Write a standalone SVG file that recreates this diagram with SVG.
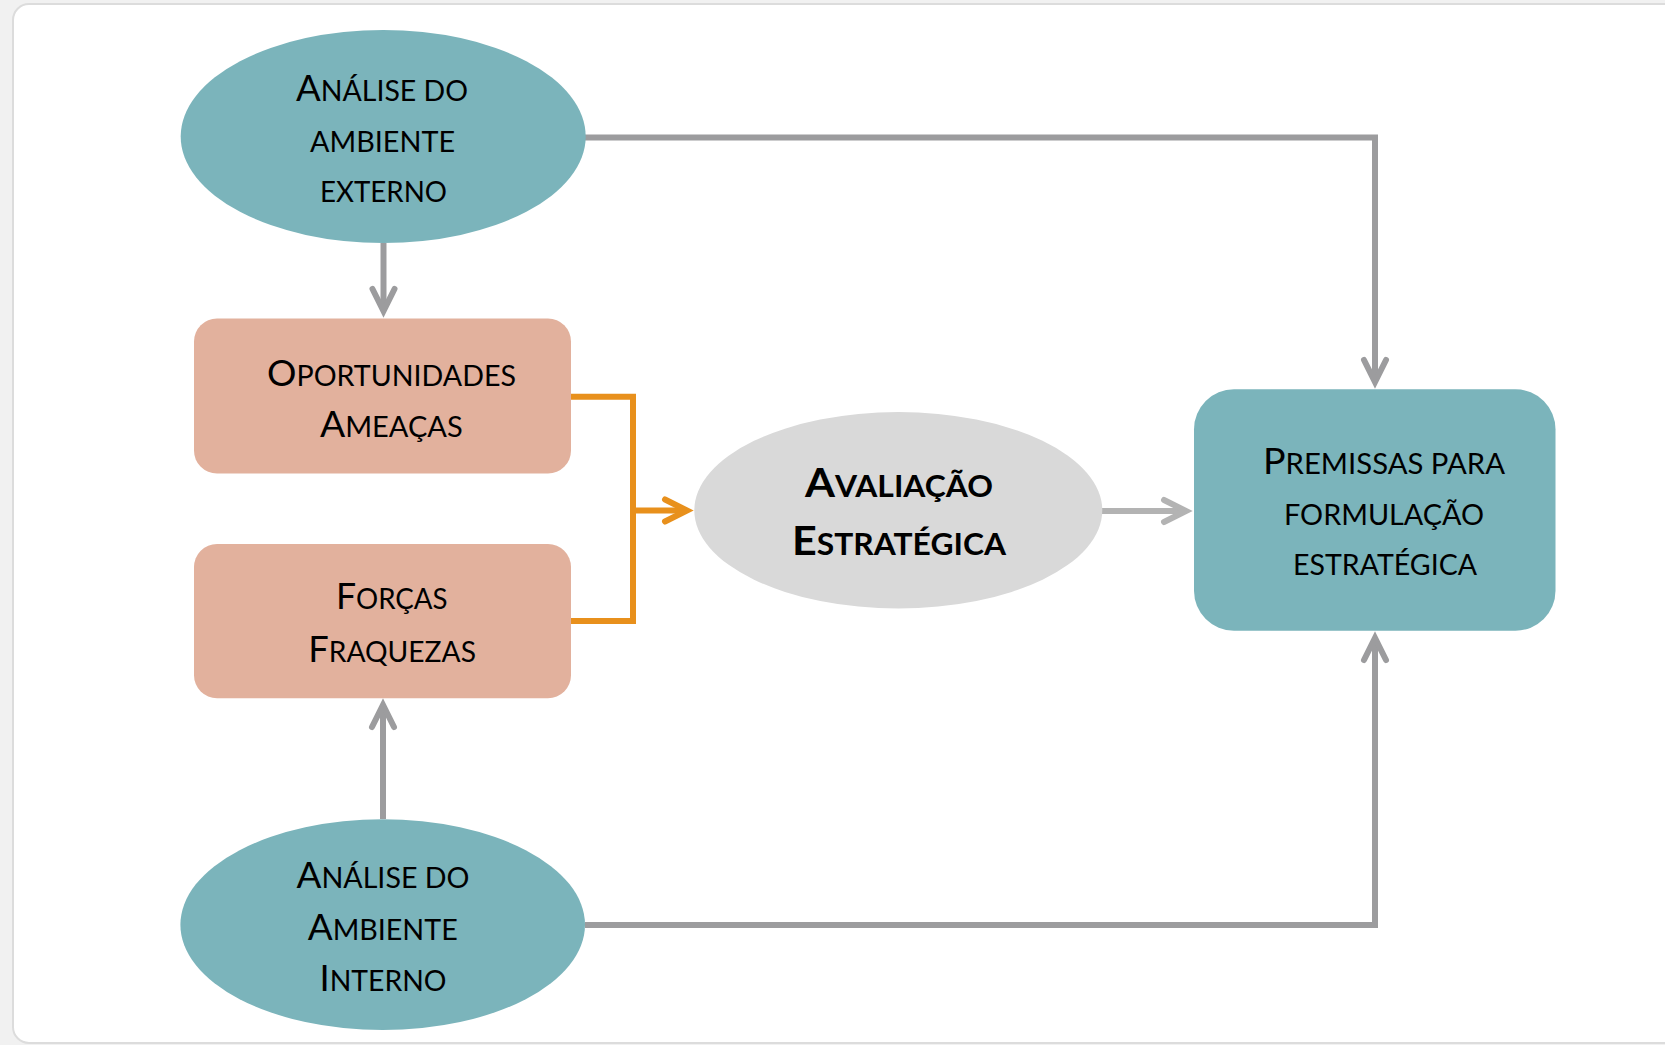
<svg xmlns="http://www.w3.org/2000/svg" width="1665" height="1045" viewBox="0 0 1665 1045">
  <style>
    .teal { fill: #7bb4bb; }
    .salmon { fill: #e2b19d; }
    .light { fill: #d9d9d9; }
    .lbl { font-family: Lato, "Open Sans", "Liberation Sans", sans-serif; fill: #000; text-anchor: middle; }
    .b { font-weight: bold; }
    .big { font-size: 36px; }
    .sm { font-size: 28px; }
    .bigB { font-size: 40px; }
    .smB { font-size: 29.5px; }
    .conn { fill: none; stroke-width: 6; stroke-linejoin: miter; }
    .gray { stroke: #9c9c9e; }
    .orange { stroke: #e8901c; }
    .lgray { stroke: #b3b3b3; }
  </style>
  <defs>
    <marker id="ah-gray" markerUnits="userSpaceOnUse" viewBox="-30 -16 40 32" refX="0" refY="0" markerWidth="40" markerHeight="32" orient="auto" overflow="visible">
      <path d="M-22,-11 L0,0 L-22,11" fill="none" stroke="#9c9c9e" stroke-width="6" stroke-linecap="round" stroke-linejoin="miter"/>
    </marker>
    <marker id="ah-orange" markerUnits="userSpaceOnUse" viewBox="-30 -16 40 32" refX="0" refY="0" markerWidth="40" markerHeight="32" orient="auto" overflow="visible">
      <path d="M-22,-11 L0,0 L-22,11" fill="none" stroke="#e8901c" stroke-width="6" stroke-linecap="round" stroke-linejoin="miter"/>
    </marker>
    <marker id="ah-lgray" markerUnits="userSpaceOnUse" viewBox="-30 -16 40 32" refX="0" refY="0" markerWidth="40" markerHeight="32" orient="auto" overflow="visible">
      <path d="M-22,-11 L0,0 L-22,11" fill="none" stroke="#b3b3b3" stroke-width="6" stroke-linecap="round" stroke-linejoin="miter"/>
    </marker>
  </defs>

  <rect x="0" y="0" width="1665" height="1045" fill="#f1f1f1"/>
  <rect x="13" y="4" width="1680" height="1039" rx="16" ry="16" fill="#ffffff" stroke="#dcdcdc" stroke-width="2"/>

  <g id="connectors">
    <path class="conn gray" d="M383.5,243 L383.5,311" marker-end="url(#ah-gray)"/>
    <path class="conn gray" d="M585,137.5 L1375,137.5 L1375,382" marker-end="url(#ah-gray)"/>
    <path class="conn gray" d="M585,925 L1375,925 L1375,638" marker-end="url(#ah-gray)"/>
    <path class="conn gray" d="M383,819 L383,705" marker-end="url(#ah-gray)"/>
    <path class="conn orange" d="M571,396.7 L633,396.7 L633,621 L571,621"/>
    <path class="conn orange" d="M633,510.5 L687,510.5" marker-end="url(#ah-orange)"/>
    <path class="conn lgray" d="M1102,511 L1186,511" marker-end="url(#ah-lgray)"/>
  </g>

  <g id="analise-externo">
    <ellipse class="teal" cx="383.2" cy="136.5" rx="202.5" ry="106.5"/>
    <text class="lbl" x="382" y="100.7" textLength="172" lengthAdjust="spacingAndGlyphs"><tspan class="big">A</tspan><tspan class="sm">NÁLISE DO</tspan></text>
    <text class="lbl sm" x="382.5" y="151.7" textLength="145" lengthAdjust="spacingAndGlyphs">AMBIENTE</text>
    <text class="lbl sm" x="383.5" y="202" textLength="127" lengthAdjust="spacingAndGlyphs">EXTERNO</text>
  </g>

  <g id="oportunidades">
    <rect class="salmon" x="194" y="318.6" width="377" height="155" rx="23" ry="23"/>
    <text class="lbl" x="391.5" y="386" textLength="249" lengthAdjust="spacingAndGlyphs"><tspan class="big">O</tspan><tspan class="sm">PORTUNIDADES</tspan></text>
    <text class="lbl" x="391.3" y="436.7" textLength="142.7" lengthAdjust="spacingAndGlyphs"><tspan class="big">A</tspan><tspan class="sm">MEAÇAS</tspan></text>
  </g>

  <g id="forcas">
    <rect class="salmon" x="194" y="544" width="377" height="154.3" rx="23" ry="23"/>
    <text class="lbl" x="391.8" y="609.3" textLength="111.7" lengthAdjust="spacingAndGlyphs"><tspan class="big">F</tspan><tspan class="sm">ORÇAS</tspan></text>
    <text class="lbl" x="392.1" y="661.7" textLength="167.7" lengthAdjust="spacingAndGlyphs"><tspan class="big">F</tspan><tspan class="sm">RAQUEZAS</tspan></text>
  </g>

  <g id="avaliacao">
    <ellipse class="light" cx="898.3" cy="510.3" rx="204" ry="98.2"/>
    <text class="lbl b" x="899" y="497.3" textLength="188" lengthAdjust="spacingAndGlyphs"><tspan class="bigB">A</tspan><tspan class="smB">VALIAÇÃO</tspan></text>
    <text class="lbl b" x="899" y="555" textLength="214" lengthAdjust="spacingAndGlyphs"><tspan class="bigB">E</tspan><tspan class="smB">STRATÉGICA</tspan></text>
  </g>

  <g id="premissas">
    <rect class="teal" x="1194" y="389.3" width="361.5" height="241.4" rx="40" ry="40"/>
    <text class="lbl" x="1384" y="474" textLength="242" lengthAdjust="spacingAndGlyphs"><tspan class="big">P</tspan><tspan class="sm">REMISSAS PARA</tspan></text>
    <text class="lbl sm" x="1384" y="524.6" textLength="200" lengthAdjust="spacingAndGlyphs">FORMULAÇÃO</text>
    <text class="lbl sm" x="1385" y="575" textLength="184" lengthAdjust="spacingAndGlyphs">ESTRATÉGICA</text>
  </g>

  <g id="analise-interno">
    <ellipse class="teal" cx="382.7" cy="924.7" rx="202.3" ry="105.4"/>
    <text class="lbl" x="383" y="888.3" textLength="173" lengthAdjust="spacingAndGlyphs"><tspan class="big">A</tspan><tspan class="sm">NÁLISE DO</tspan></text>
    <text class="lbl" x="382.7" y="940" textLength="150" lengthAdjust="spacingAndGlyphs"><tspan class="big">A</tspan><tspan class="sm">MBIENTE</tspan></text>
    <text class="lbl" x="383" y="990.7" textLength="127" lengthAdjust="spacingAndGlyphs"><tspan class="big">I</tspan><tspan class="sm">NTERNO</tspan></text>
  </g>
</svg>
